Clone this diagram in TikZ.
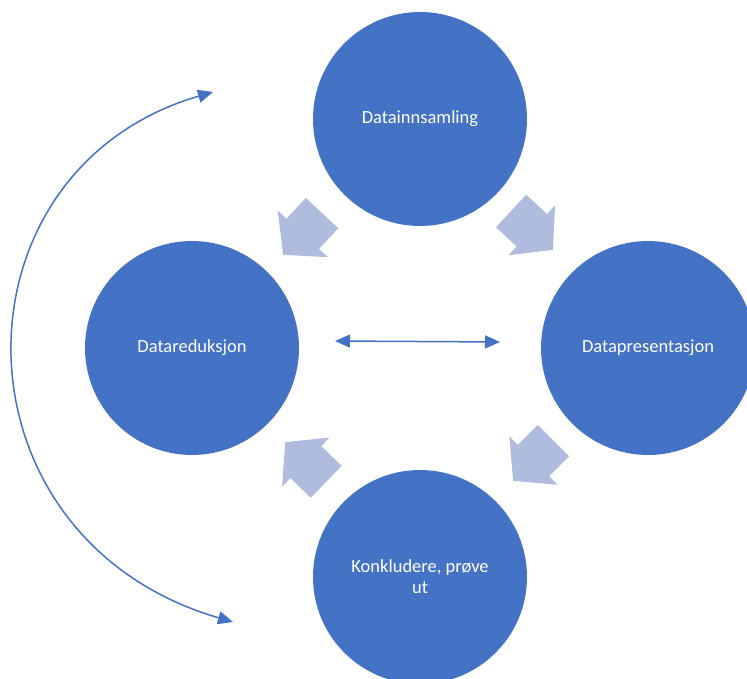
\documentclass[tikz,border=0pt]{standalone}
\usepackage{fontspec}
\setmainfont{Carlito}
\usetikzlibrary{arrows.meta,shapes.arrows}
\definecolor{fasebla}{RGB}{68,114,196}
\definecolor{pilbla}{RGB}{176,188,222}
\tikzset{
  fase/.style={circle, fill=fasebla, minimum size=214pt, inner sep=0pt, text=white, font=\fontsize{18.5}{21}\selectfont, align=center},
  pil/.style={single arrow, fill=pilbla, anchor=tip, minimum height=57pt, inner xsep=0pt, inner ysep=22pt, single arrow head extend=12pt, single arrow tip angle=100},
  kobling/.style={draw=fasebla, line width=1.5pt, {Triangle[length=15pt,width=13pt]}-{Triangle[length=15pt,width=13pt]}}
}

\begin{document}
\begin{tikzpicture}[x=1pt, y=-1pt]
\useasboundingbox (0,0) rectangle (747,679);
\node[fase] (innsamling) at (420,119) {Datainnsamling};
\node[fase] (reduksjon) at (192,348) {Datareduksjon};
\node[fase] (presentasjon) at (648,348) {Datapresentasjon};
\node[fase] (konkludere) at (420,577) {Konkludere, prøve\\ut};
\node[pil, rotate=227] (pilInnRed) at (283,255) {};
\node[pil, rotate=-43] (pilInnPre) at (553,250) {};
\node[pil, rotate=225] (pilPreKon) at (513,481) {};
\node[pil, rotate=136] (pilKonRed) at (285,442) {};
\coordinate (midtV) at (335,341);
\coordinate (midtH) at (500,342);
\draw[kobling] (midtV) -- (midtH);
\coordinate (bueTopp) at (213,92);
\coordinate (bueBunn) at (233,622);
\draw[kobling] (bueBunn) .. controls (-55,538) and (-55,170) .. (bueTopp);
\end{tikzpicture}
\end{document}
